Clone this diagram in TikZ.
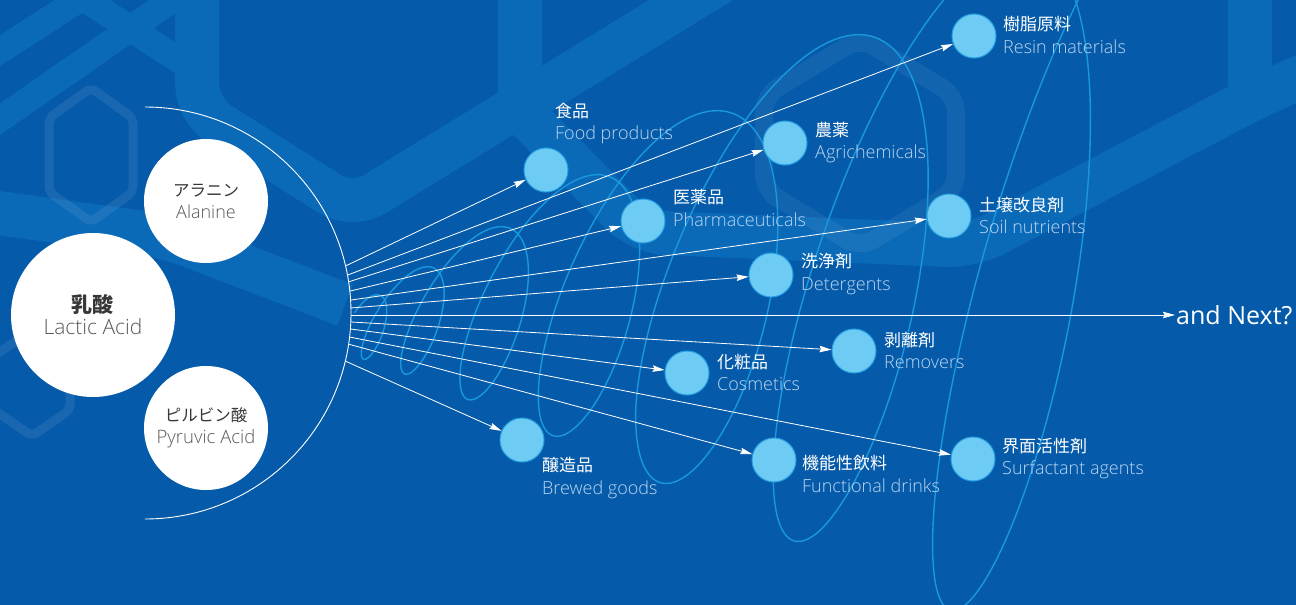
\documentclass[tikz,border=0pt]{standalone}
\usepackage{fontspec}
\usetikzlibrary{arrows.meta,calc}
\IfFontExistsTF{Open Sans Light}{\setmainfont{Open Sans Light}}{\setmainfont{Open Sans}}
\newfontfamily\enreg{Open Sans}
\newfontfamily\jp{Noto Sans CJK JP}

\definecolor{bgblue}{RGB}{5,91,170}
\definecolor{bandblue}{RGB}{11,106,184}
\definecolor{coil}{RGB}{24,152,222}
\definecolor{dotfill}{RGB}{110,203,244}
\definecolor{dotedge}{RGB}{38,160,226}
\definecolor{entext}{RGB}{188,214,241}
\definecolor{darktext}{RGB}{55,55,55}
\definecolor{greytext}{RGB}{88,88,88}

\tikzset{
  band/.style={draw=bandblue, line width=44pt, rounded corners=26pt},
  thinband/.style={draw=bandblue, line width=26pt, rounded corners=14pt},
  glowhex/.style={draw=white, draw opacity=0.08, line width=9pt, rounded corners=6pt},
  bigdot/.style={circle, fill=white, inner sep=0pt, align=center},
  dot/.style={circle, fill=dotfill, draw=dotedge, line width=1pt, minimum size=44pt, inner sep=0pt},
  lbl/.style={anchor=west, inner sep=0pt, align=left, text=white,
              font=\fontsize{17}{22.5}\selectfont},
  conn/.style={draw=white, line width=0.8pt,
               -{Stealth[length=12pt, width=6.5pt, inset=1.5pt]}},
  % coil: centre line, tilt, half width, vertical centre and half height per turn u
  declare function={
    hxm(\u)=363.5+29*\u+11.35*\u*\u;
    hxd(\u)=11.5+9*\u+0.15*\u*\u;
    hxa(\u)=min(12+7*\u+2.2*\u*\u,92);
    hyc(\u)=325.5-9*\u-0.3*\u*\u;
    hyh(\u)=30.5+13*\u+5.7*\u*\u;
  }
}

\begin{document}
\begin{tikzpicture}[x=1pt, y=-1pt]
\useasboundingbox (0,0) rectangle (1296,605);
\fill[bgblue] (0,0) rectangle (1296,605);

% background: chain of hexagonal bands
\begin{scope}
  \clip (0,0) rectangle (1296,605);
  \draw[band] (197,-60) -- (197,110) -- (352,208) -- (740,-30);
  \draw[band] (520,-60) -- (520,110);
  \draw[band] (520,110) -- (640,232) -- (972,246) -- (1250,100) -- (1360,50);
  \draw[band] (1250,-60) -- (1250,100);
  \draw[band] (-60,205) -- (165,236) -- (345,305);
  \draw[thinband] (-30,70) -- (125,-30);
  \draw[thinband] (-30,140) -- (215,-30);
  \draw[thinband] (40,-30) -- (197,72);
  \draw[glowhex] (91,88) -- (133,118) -- (133,192) -- (91,222) -- (49,192) -- (49,118) -- cycle;
  \draw[glowhex] (32,330) -- (70,356) -- (70,410) -- (32,436) -- (-6,410) -- (-6,356) -- cycle;
  \draw[glowhex, line width=18pt, rounded corners=16pt, draw opacity=0.06]
    (860,38) -- (956,96) -- (956,190) -- (860,248) -- (764,190) -- (764,96) -- cycle;
\end{scope}

% expanding coil
\begin{scope}
  \clip (0,0) rectangle (1296,605);
  \draw[coil, line width=1.4pt, line join=round]
    plot[domain=-60:2520, samples=900, variable=\t]
      ({hxm(\t/360)+hxd(\t/360)*cos(\t)+hxa(\t/360)*sin(\t)},
       {hyc(\t/360)-hyh(\t/360)*cos(\t)});
\end{scope}

% source circles
\node[bigdot, minimum size=164pt, font=\fontsize{21}{22}\selectfont] (lactic) at (93,315)
  {{\jp\bfseries\color{darktext}乳酸}\\{\color{greytext}Lactic Acid}};
\node[bigdot, minimum size=124pt, font=\fontsize{18}{22}\selectfont] (alanine) at (206,201)
  {{\jp\fontsize{16.5}{20}\selectfont\color{darktext}アラニン}\\{\color{greytext}Alanine}};
\node[bigdot, minimum size=124pt, font=\fontsize{18.5}{21.5}\selectfont] (pyruvic) at (206,428)
  {{\jp\fontsize{16.5}{20}\selectfont\color{darktext}ピルビン酸}\\{\color{greytext}Pyruvic Acid}};

% enclosing arc and the points where the arrows leave it
\coordinate (hub) at (145,313);
\draw[white, line width=0.9pt] (hub) ++(-90:206) arc[start angle=-90, end angle=90, radius=206];
\coordinate (sFood)   at ($(hub)+(-13.2:206)$);
\coordinate (sResin)  at ($(hub)+(-10.6:206)$);
\coordinate (sAgri)   at ($(hub)+(-8.7:206)$);
\coordinate (sPharma) at ($(hub)+(-6.1:206)$);
\coordinate (sSoil)   at ($(hub)+(-3.6:206)$);
\coordinate (sDeterg) at ($(hub)+(-1.4:206)$);
\coordinate (sNext)   at (350.9,315);
\coordinate (sRemov)  at ($(hub)+(2.5:206)$);
\coordinate (sCosm)   at ($(hub)+(4.45:206)$);
\coordinate (sSurf)   at ($(hub)+(6.7:206)$);
\coordinate (sFunc)   at ($(hub)+(8.7:206)$);
\coordinate (sBrew)   at ($(hub)+(13.5:206)$);

% application nodes
\node[dot] (food)   at (546,170) {};
\node[dot] (pharma) at (643,221) {};
\node[dot] (brew)   at (522,440) {};
\node[dot] (agri)   at (785,143) {};
\node[dot] (resin)  at (974,36)  {};
\node[dot] (soil)   at (949,216) {};
\node[dot] (deterg) at (771,275) {};
\node[dot] (remov)  at (854,351) {};
\node[dot] (cosm)   at (687,373) {};
\node[dot] (func)   at (774,460) {};
\node[dot] (surf)   at (973,459) {};
\node[anchor=west, inner sep=1pt, text=white, font=\enreg\fontsize{25}{27}\selectfont]
  (next) at (1175,315) {and Next?};

% arrows
\draw[conn] (sFood)   -- (food);
\draw[conn] (sResin)  -- (resin);
\draw[conn] (sAgri)   -- (agri);
\draw[conn] (sPharma) -- (pharma);
\draw[conn] (sSoil)   -- (soil);
\draw[conn] (sDeterg) -- (deterg);
\draw[conn] (sNext)   -- (next);
\draw[conn] (sRemov)  -- (remov);
\draw[conn] (sCosm)   -- (cosm);
\draw[conn] (sSurf)   -- (surf);
\draw[conn] (sFunc)   -- (func);
\draw[conn] (sBrew)   -- (brew);

% labels: Japanese name over English name
\newcommand{\entx}[1]{{\color{entext}\fontsize{18}{22.5}\selectfont #1}}
\node[lbl] (foodL)   at (555,123.5) {{\jp 食品}\\\entx{Food products}};
\node[lbl] (pharmaL) at (673,208)   {{\jp 医薬品}\\\entx{Pharmaceuticals}};
\node[lbl] (agriL)   at (815,142.5) {{\jp 農薬}\\\entx{Agrichemicals}};
\node[lbl] (resinL)  at (1003,35)   {{\jp 樹脂原料}\\\entx{Resin materials}};
\node[lbl] (soilL)   at (979,215.5) {{\jp 土壌改良剤}\\\entx{Soil nutrients}};
\node[lbl] (detergL) at (801,274)   {{\jp 洗浄剤}\\\entx{Detergents}};
\node[lbl] (removL)  at (884,350.5) {{\jp 剥離剤}\\\entx{Removers}};
\node[lbl] (cosmL)   at (717,372.5) {{\jp 化粧品}\\\entx{Cosmetics}};
\node[lbl] (funcL)   at (802,474)   {{\jp 機能性飲料}\\\entx{Functional drinks}};
\node[lbl] (surfL)   at (1002,458.5) {{\jp 界面活性剤}\\\entx{Surfactant agents}};
\node[lbl] (brewL)   at (542,478)   {{\jp 醸造品}\\\entx{Brewed goods}};
\end{tikzpicture}
\end{document}
